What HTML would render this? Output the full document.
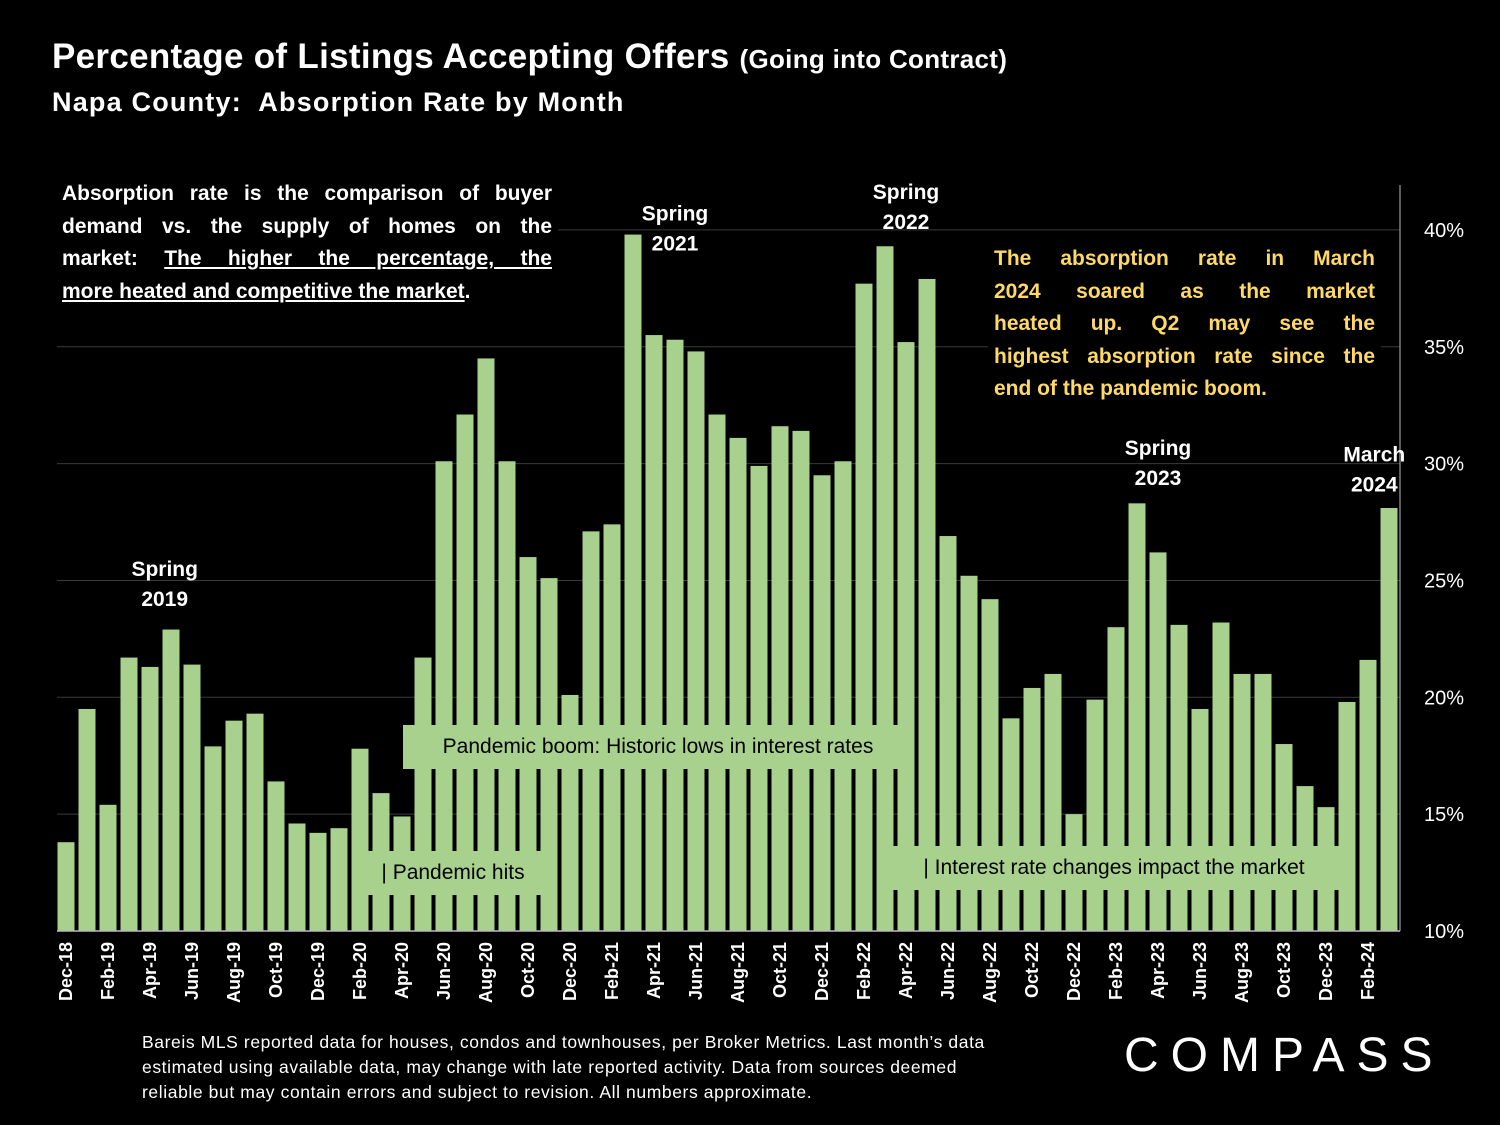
<!DOCTYPE html>
<html><head><meta charset="utf-8"><style>
body{margin:0;background:#000;width:1500px;height:1125px;overflow:hidden;font-family:"Liberation Sans",sans-serif;color:#fff}
.abs{position:absolute}
.j{text-align:justify;text-align-last:justify;white-space:nowrap}
</style></head><body>
<div class="abs" style="left:52px;top:37px;font-size:35px;font-weight:bold;letter-spacing:0.3px">Percentage of Listings Accepting Offers <span style="font-size:26px">(Going into Contract)</span></div>
<div class="abs" style="left:52px;top:87px;font-size:27px;font-weight:bold;letter-spacing:1.2px">Napa County:&nbsp; Absorption Rate by Month</div>
<svg class="abs" style="left:0;top:0" width="1500" height="1125" id="chart"></svg>
<div class="abs" style="left:56px;top:178px;width:490px;padding:0 6px;background:#000;font-size:21px;font-weight:bold;line-height:32.5px">
<div class="j">Absorption rate is the comparison of buyer</div>
<div class="j">demand vs. the supply of homes on the</div>
<div class="j">market: <u>The higher the percentage, the</u></div>
<div><u>more heated and competitive the market</u>.</div></div>
<div class="abs" style="left:988px;top:243px;width:381px;padding:0 6px 6px;background:#000;color:#ffd966;font-size:21px;font-weight:bold;line-height:32.5px">
<div class="j">The absorption rate in March</div>
<div class="j">2024 soared as the market</div>
<div class="j">heated up. Q2 may see the</div>
<div class="j">highest absorption rate since the</div>
<div>end of the pandemic boom.</div></div>
<div class="abs" style="left:403px;top:725px;width:510px;height:44px;background:#a9d18e;color:#000;font-size:21px;line-height:44px;text-align:center">Pandemic boom: Historic lows in interest rates</div>
<div class="abs" style="left:354px;top:851px;width:198px;height:44px;background:#a9d18e;color:#000;font-size:21px;line-height:44px;text-align:center">| Pandemic hits</div>
<div class="abs" style="left:880px;top:846px;width:468px;height:44px;background:#a9d18e;color:#000;font-size:21px;line-height:44px;text-align:center">| Interest rate changes impact the market</div>
<div class="abs" style="left:142px;top:1030px;font-size:17.5px;letter-spacing:0.6px;line-height:25px;white-space:nowrap">Bareis MLS reported data for houses, condos and townhouses, per Broker Metrics. Last month’s data<br>estimated using available data, may change with late reported activity. Data from sources deemed<br>reliable but may contain errors and subject to revision. All numbers approximate.</div>
<div class="abs" style="left:1124px;top:1028px;font-size:48px;letter-spacing:12px">COMPASS</div>
<script>
const months=["Dec-18","Jan-19","Feb-19","Mar-19","Apr-19","May-19","Jun-19","Jul-19","Aug-19","Sep-19","Oct-19","Nov-19","Dec-19","Jan-20","Feb-20","Mar-20","Apr-20","May-20","Jun-20","Jul-20","Aug-20","Sep-20","Oct-20","Nov-20","Dec-20","Jan-21","Feb-21","Mar-21","Apr-21","May-21","Jun-21","Jul-21","Aug-21","Sep-21","Oct-21","Nov-21","Dec-21","Jan-22","Feb-22","Mar-22","Apr-22","May-22","Jun-22","Jul-22","Aug-22","Sep-22","Oct-22","Nov-22","Dec-22","Jan-23","Feb-23","Mar-23","Apr-23","May-23","Jun-23","Jul-23","Aug-23","Sep-23","Oct-23","Nov-23","Dec-23","Jan-24","Feb-24","Mar-24"];
const values=[13.8,19.5,15.4,21.7,21.3,22.9,21.4,17.9,19.0,19.3,16.4,14.6,14.2,14.4,17.8,15.9,14.9,21.7,30.1,32.1,34.5,30.1,26.0,25.1,20.1,27.1,27.4,39.8,35.5,35.3,34.8,32.1,31.1,29.9,31.6,31.4,29.5,30.1,37.7,39.3,35.2,37.9,26.9,25.2,24.2,19.1,20.4,21.0,15.0,19.9,23.0,28.3,26.2,23.1,19.5,23.2,21.0,21.0,18.0,16.2,15.3,19.8,21.6,28.1];
const yTicks=[10,15,20,25,30,35,40];
const annotations=[["Spring","2019",4.7,25.2],["Spring","2021",29,40.4],["Spring","2022",40,41.33],["Spring","2023",52,30.36],["March","2024",62.3,30.1]];
const svg=document.getElementById('chart');const NS="http://www.w3.org/2000/svg";
const y=v=>931-(v-10)*23.37;const x=i=>66+i*21.0;
function el(t,a){const e=document.createElementNS(NS,t);for(const k in a)e.setAttribute(k,a[k]);svg.appendChild(e);return e;}
yTicks.forEach(t=>{
 if(t>10){const g=el('line',{x1:57,x2:1400,y1:y(t),y2:y(t),stroke:'#3a3a3a','stroke-width':1});
 
 }
 const tx=el('text',{x:1424,y:y(t)+7,fill:'#fff','font-size':20,'font-family':'Liberation Sans'});tx.textContent=t+'%';
 
 
});
values.forEach((v,i)=>{const r=el('rect',{x:x(i)-8.5,y:y(v),width:17,height:931-y(v),fill:'#a9d18e'});
 
 });
const ax=el('line',{x1:57,x2:1400,y1:931,y2:931,stroke:'#bbb','stroke-width':1.5});


const ay=el('line',{x1:1400,x2:1400,y1:185,y2:931,stroke:'#bbb','stroke-width':1});


months.forEach((m,i)=>{if(i%2)return;const t=el('text',{x:0,y:0,fill:'#fff','font-size':18,'font-weight':'bold','font-family':'Liberation Sans','text-anchor':'end',transform:`translate(${x(i)+6},942) rotate(-90)`});t.textContent=m;
 
 });
annotations.forEach(a=>{const cx=x(a[2]);const top=y(a[3]);
 [a[0],a[1]].forEach((s,k)=>{const t=el('text',{x:cx,y:top+k*30,fill:'#fff','font-size':21,'font-weight':'bold','font-family':'Liberation Sans','text-anchor':'middle'});t.textContent=s;
 
 });});
</script>
</body></html>
